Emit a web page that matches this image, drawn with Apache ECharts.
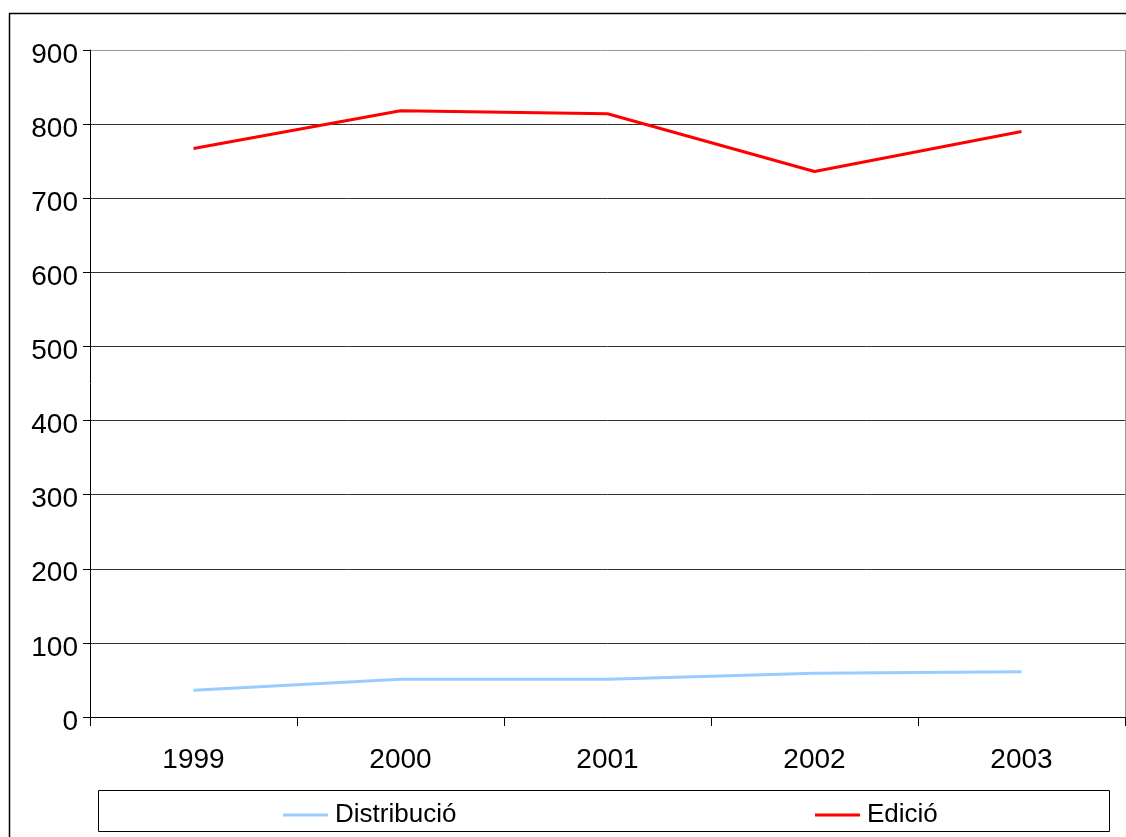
<!DOCTYPE html>
<html>
<head>
<meta charset="utf-8">
<script src="https://cdn.jsdelivr.net/npm/echarts@6/dist/echarts.min.js"></script>
<style>
html,body{margin:0;padding:0;background:#fff;}
#chart{width:1126px;height:837px;}
</style>
</head>
<body>
<div id="chart"></div>
<script>
const categories = ['1999', '2000', '2001', '2002', '2003'];
const distribucio = [36, 51, 51, 59, 61];
const edicio = [767, 818, 814, 736, 790];
const yTicks = [0, 100, 200, 300, 400, 500, 600, 700, 800, 900];

const chart = echarts.init(document.getElementById('chart'));
const font = 'Liberation Sans, Arial, Helvetica, sans-serif';
const splitColors = yTicks.map((v, i) => i === yTicks.length - 1 ? '#999' : '#333');

chart.setOption({
  animation: false,
  backgroundColor: '#fff',
  graphic: [
    { type: 'rect', z: -1, shape: { x: 9.5, y: 13.5, width: 1200, height: 900 },
      style: { fill: '#fff', stroke: '#000', lineWidth: 1.5 } },
    { type: 'rect', z: 0, shape: { x: 98.5, y: 790.5, width: 1011, height: 41 },
      style: { fill: '#fff', stroke: '#000', lineWidth: 1 } },
    { type: 'line', z: 1, shape: { x1: 1125.5, y1: 50, x2: 1125.5, y2: 717 },
      style: { stroke: '#999', lineWidth: 1 } }
  ],
  legend: [
    { data: ['Distribució'], left: 283, top: 801, padding: 0, itemWidth: 45, itemHeight: 3, icon: 'rect', itemGap: 8,
      textStyle: { fontFamily: font, fontSize: 26, color: '#000', lineHeight: 28, padding: [0, 0, 0, 2] }, z: 5 },
    { data: ['Edició'], left: 815, top: 801, padding: 0, itemWidth: 45, itemHeight: 3, icon: 'rect', itemGap: 8,
      textStyle: { fontFamily: font, fontSize: 26, color: '#000', lineHeight: 28, padding: [0, 0, 0, 2] }, z: 5 }
  ],
  grid: { left: 90, right: 1, top: 50, bottom: 120, containLabel: false },
  xAxis: {
    type: 'category',
    data: categories,
    boundaryGap: true,
    axisLine: { lineStyle: { color: '#000', width: 1 } },
    axisTick: { show: true, length: 9, lineStyle: { color: '#000' } },
    axisLabel: { fontFamily: font, fontSize: 28, color: '#000', margin: 29 },
    splitLine: { show: false }
  },
  yAxis: {
    type: 'value',
    min: 0, max: 900, interval: 100,
    axisLine: { show: true, lineStyle: { color: '#000', width: 1 } },
    axisTick: { show: true, length: 7, lineStyle: { color: '#000' } },
    axisLabel: {
      margin: 12,
      formatter: '{a|{value}}',
      rich: { a: { fontFamily: font, fontSize: 28, color: '#000', padding: [10, 0, 0, 0] } }
    },
    splitLine: { show: true, lineStyle: { color: splitColors, width: 1 } }
  },
  series: [
    { name: 'Distribució', type: 'line', data: distribucio, symbol: 'none',
      lineStyle: { color: '#99ccff', width: 3 }, itemStyle: { color: '#99ccff' } },
    { name: 'Edició', type: 'line', data: edicio, symbol: 'none',
      lineStyle: { color: '#ff0000', width: 3 }, itemStyle: { color: '#ff0000' } }
  ]
});
</script>
</body>
</html>
